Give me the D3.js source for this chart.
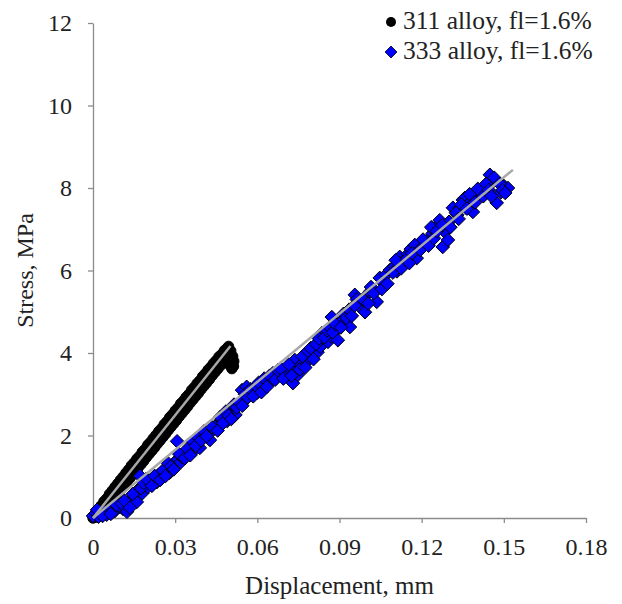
<!DOCTYPE html>
<html lang="en">

<head>
  <meta charset="UTF-8">
  <title>Stress vs displacement</title>
  <script src="https://d3js.org/d3.v7.min.js"></script>
  <style>
    body { margin: 0; background: #fff; }
    text { font-family: "Liberation Serif", "Times New Roman", serif; fill: #222; }
  </style>
</head>

<body>
  <div id="my_dataviz"></div>
  <script>

    // ticks
    const xTicks = [0, 0.03, 0.06, 0.09, 0.12, 0.15, 0.18];
    const xTickLabels = ["0", "0.03", "0.06", "0.09", "0.12", "0.15", "0.18"];
    const yTicks = [0, 2, 4, 6, 8, 10, 12];
    const yTickLabels = ["0", "2", "4", "6", "8", "10", "12"];

    const seriesNames = ["311 alloy, fl=1.6%", "333 alloy, fl=1.6%"];

    // 311 alloy: [displacement mm, stress MPa]
    const alloy311 = [
      [0.000, 0.00], [0.001, 0.12], [0.002, 0.22], [0.003, 0.30], [0.004, 0.40], [0.005, 0.47],
      [0.006, 0.58], [0.007, 0.66], [0.008, 0.75], [0.009, 0.83], [0.010, 0.92], [0.011, 1.00],
      [0.012, 1.09], [0.013, 1.17], [0.014, 1.27], [0.015, 1.34], [0.016, 1.43], [0.017, 1.50],
      [0.018, 1.60], [0.019, 1.67], [0.020, 1.77], [0.021, 1.84], [0.022, 1.93], [0.023, 2.01],
      [0.024, 2.10], [0.025, 2.17], [0.026, 2.27], [0.027, 2.34], [0.028, 2.44], [0.029, 2.51],
      [0.030, 2.60], [0.031, 2.67], [0.032, 2.77], [0.033, 2.84], [0.034, 2.93], [0.035, 3.00],
      [0.036, 3.10], [0.037, 3.17], [0.038, 3.26], [0.039, 3.33], [0.040, 3.43], [0.041, 3.50],
      [0.042, 3.59], [0.043, 3.66], [0.044, 3.75], [0.045, 3.82], [0.046, 3.91], [0.047, 3.97],
      [0.048, 4.06], [0.049, 4.12], [0.0495, 4.16], [0.0503, 4.05], [0.0510, 3.92], [0.0514, 3.80],
      [0.0513, 3.68], [0.0507, 3.62], [0.0500, 3.70],
      [0.0015, 0.02], [0.0025, 0.06], [0.0035, 0.15], [0.0045, 0.23], [0.0055, 0.31], [0.0065, 0.39],
      [0.0075, 0.48], [0.0085, 0.56], [0.0095, 0.64], [0.0105, 0.72], [0.0115, 0.81], [0.0125, 0.89],
      [0.0135, 0.97], [0.0145, 1.05], [0.0155, 1.14], [0.0165, 1.22], [0.0175, 1.30], [0.0185, 1.38],
      [0.0195, 1.47], [0.0205, 1.55], [0.0215, 1.63], [0.0225, 1.71], [0.0235, 1.80], [0.0245, 1.88],
      [0.0255, 1.96], [0.0265, 2.04], [0.0275, 2.13], [0.0285, 2.21], [0.0295, 2.29], [0.0305, 2.37],
      [0.0315, 2.46], [0.0325, 2.54], [0.0335, 2.62], [0.0345, 2.70], [0.0355, 2.79], [0.0365, 2.87],
      [0.0375, 2.95], [0.0385, 3.03], [0.0395, 3.12], [0.0405, 3.20], [0.0415, 3.28], [0.0425, 3.36],
      [0.0435, 3.45], [0.0445, 3.53], [0.0455, 3.61], [0.0465, 3.69], [0.0475, 3.78], [0.0485, 3.86]
    ];

    // 333 alloy
    const alloy333 = [
      [0.000, 0.05], [0.001, 0.12], [0.002, 0.03], [0.003, 0.14], [0.0044, 0.15], [0.005, 0.08],
      [0.006, 0.20], [0.007, 0.24], [0.008, 0.17], [0.0099, 0.27], [0.011, 0.22], [0.0124, 0.15],
      [0.013, 0.36], [0.014, 0.44], [0.015, 0.52], [0.016, 0.39], [0.0164, 0.68], [0.0172, 1.02],
      [0.018, 0.60], [0.019, 0.79], [0.020, 0.75], [0.021, 0.92], [0.022, 0.83], [0.0233, 0.87],
      [0.024, 1.05], [0.025, 0.96], [0.026, 1.12], [0.027, 1.20], [0.028, 1.10], [0.029, 1.28],
      [0.030, 1.36], [0.0307, 1.86], [0.031, 1.42], [0.032, 1.35], [0.0325, 1.48], [0.034, 1.55],
      [0.035, 1.62], [0.036, 1.72], [0.037, 1.64], [0.038, 1.80], [0.039, 1.70], [0.040, 1.92],
      [0.041, 2.00], [0.0427, 1.89], [0.043, 2.08], [0.0445, 2.18], [0.045, 2.25], [0.046, 2.30],
      [0.047, 2.38], [0.048, 2.42], [0.049, 2.35], [0.050, 2.55], [0.051, 2.62], [0.052, 2.50],
      [0.053, 2.72], [0.0544, 3.10], [0.055, 2.85], [0.0561, 3.18], [0.057, 2.98], [0.058, 3.05],
      [0.0598, 3.03], [0.061, 3.15], [0.062, 3.22], [0.063, 3.30], [0.064, 3.25], [0.0657, 3.51],
      [0.067, 3.40], [0.069, 3.42], [0.070, 3.55], [0.071, 3.50], [0.072, 3.62], [0.073, 3.27],
      [0.0737, 3.83], [0.0748, 3.47], [0.076, 3.70], [0.077, 3.78], [0.078, 3.90], [0.079, 3.85],
      [0.080, 3.98], [0.082, 4.02], [0.083, 4.15], [0.0836, 4.48], [0.0858, 4.27], [0.087, 4.40],
      [0.0872, 4.87], [0.089, 4.56], [0.0894, 4.31], [0.0912, 4.80], [0.0938, 4.63], [0.0956, 5.41],
      [0.0963, 5.30], [0.0974, 5.12], [0.0993, 4.99], [0.101, 5.48], [0.1036, 5.24], [0.1047, 5.82],
      [0.106, 5.70], [0.107, 5.90], [0.1084, 6.01], [0.110, 6.10], [0.111, 5.98], [0.112, 6.33],
      [0.113, 6.20], [0.115, 6.40], [0.116, 6.52], [0.1175, 6.62], [0.1182, 6.30], [0.120, 6.55],
      [0.1219, 6.69], [0.123, 6.80], [0.124, 6.90], [0.125, 7.05], [0.1266, 7.22], [0.1277, 6.57],
      [0.1285, 6.93], [0.1296, 6.74], [0.130, 7.18], [0.1314, 7.52], [0.133, 7.35], [0.134, 7.52],
      [0.135, 7.71], [0.1358, 7.76], [0.137, 7.60], [0.1387, 7.42], [0.140, 7.80], [0.1412, 7.90],
      [0.143, 7.95], [0.1449, 8.32], [0.146, 8.15], [0.1474, 7.64], [0.149, 7.90], [0.150, 8.05],
      [0.1515, 8.00],
      [0.0015, 0.20], [0.0035, 0.05], [0.0065, 0.10], [0.0085, 0.32], [0.0105, 0.35], [0.0115, 0.42],
      [0.0135, 0.25], [0.0145, 0.58], [0.0175, 0.72], [0.0185, 0.85], [0.0195, 0.95], [0.0215, 0.78],
      [0.0225, 1.02], [0.0245, 0.92], [0.0255, 1.15], [0.0265, 1.02], [0.0275, 1.32], [0.0285, 1.25],
      [0.0295, 1.18], [0.0315, 1.55], [0.0335, 1.45], [0.0345, 1.68], [0.0355, 1.52], [0.0365, 1.85],
      [0.0375, 1.75], [0.0385, 1.95], [0.0395, 1.88], [0.0405, 2.10], [0.0415, 1.98], [0.0435, 2.20],
      [0.0455, 2.12], [0.0465, 2.45], [0.0475, 2.30], [0.0485, 2.58], [0.0495, 2.48], [0.0505, 2.40],
      [0.0515, 2.75], [0.0525, 2.68], [0.0535, 2.80], [0.0545, 2.72], [0.0555, 3.00], [0.0565, 2.92],
      [0.0575, 3.12], [0.0585, 2.95], [0.0595, 3.20], [0.0605, 3.28], [0.0615, 3.05], [0.0625, 3.38],
      [0.0635, 3.18], [0.0645, 3.45], [0.0665, 3.35], [0.0675, 3.58], [0.0685, 3.62], [0.0695, 3.38],
      [0.0715, 3.72], [0.0725, 3.45], [0.0755, 3.60], [0.0765, 3.92], [0.0775, 3.65], [0.0785, 4.05],
      [0.0795, 4.12], [0.0805, 3.85], [0.0815, 4.22], [0.0825, 4.35], [0.0845, 4.38], [0.0855, 4.55],
      [0.0865, 4.62], [0.0875, 4.50], [0.0885, 4.70], [0.0905, 4.62], [0.0915, 4.95], [0.0925, 4.85],
      [0.0935, 5.05], [0.0945, 4.90], [0.0955, 5.15], [0.0985, 5.30], [0.1005, 5.20], [0.1015, 5.60],
      [0.1025, 5.45], [0.1055, 5.55], [0.1075, 5.68], [0.1095, 5.95], [0.1105, 6.25], [0.1125, 6.05],
      [0.1145, 6.28], [0.1155, 6.18], [0.1165, 6.42], [0.1195, 6.50], [0.1205, 6.75], [0.1225, 6.60],
      [0.1235, 7.05], [0.1245, 6.78], [0.1255, 6.95], [0.1275, 7.10], [0.1305, 7.05], [0.1325, 7.40],
      [0.1335, 7.25], [0.1345, 7.60], [0.1365, 7.50], [0.1375, 7.85], [0.1395, 7.65], [0.1405, 7.98],
      [0.1425, 7.80], [0.1435, 8.10], [0.1445, 7.95], [0.1455, 7.80], [0.1465, 8.25], [0.1485, 8.10],
      [0.1495, 7.95], [0.1505, 7.88]
    ];

    // linear trend lines (end points)
    const trend311 = [[0, 0], [0.0502, 4.17]];
    const trend333 = [[0, 0], [0.1533, 8.44]];

    const margin = { top: 23, right: 36, bottom: 86, left: 93 },
      width = 622 - margin.left - margin.right,
      height = 604 - margin.top - margin.bottom;

    const svg = d3.select("#my_dataviz")
      .append("svg")
      .attr("width", 622)
      .attr("height", 604)
      .append("g")
      .attr("transform", `translate(${margin.left},${margin.top})`);

    const x = d3.scaleLinear().domain([0, 0.18]).range([0, width]);
    const y = d3.scaleLinear().domain([0, 12]).range([height, 0]);

    // X axis
    const xAxis = svg.append("g")
      .attr("transform", `translate(0,${height})`)
      .call(d3.axisBottom(x).tickValues(xTicks)
        .tickFormat((d, i) => xTickLabels[i]).tickSize(5).tickPadding(15).tickSizeOuter(0));

    // Y axis
    const yAxis = svg.append("g")
      .call(d3.axisLeft(y).tickValues(yTicks)
        .tickFormat((d, i) => yTickLabels[i]).tickSize(5).tickPadding(16).tickSizeOuter(0));

    [xAxis, yAxis].forEach(a => {
      a.select(".domain").attr("stroke", "#8c8c8c").attr("stroke-width", 1.3);
      a.selectAll(".tick line").attr("stroke", "#8c8c8c").attr("stroke-width", 1.3);
      a.selectAll(".tick text")
        .style("font-family", '"Liberation Serif", serif')
        .style("font-size", "24px")
        .attr("fill", "#222");
    });

    // axis titles
    svg.append("text")
      .attr("x", width / 2)
      .attr("y", height + 76)
      .attr("text-anchor", "middle")
      .style("font-size", "25px")
      .text("Displacement, mm");

    svg.append("text")
      .attr("transform", `translate(${33 - margin.left},${height / 2}) rotate(-90)`)
      .attr("text-anchor", "middle")
      .style("font-size", "24px")
      .text("Stress, MPa");

    const diamond = s => `M0,${-s}L${s},0L0,${s}L${-s},0Z`;

    // 311 circles
    svg.append("g")
      .selectAll("circle")
      .data(alloy311)
      .join("circle")
      .attr("cx", d => x(d[0]))
      .attr("cy", d => y(d[1]))
      .attr("r", 5.2)
      .attr("fill", "#000")
      .attr("stroke", "#000");

    // 333 diamonds
    svg.append("g")
      .selectAll("path")
      .data(alloy333)
      .join("path")
      .attr("transform", d => `translate(${x(d[0])},${y(d[1])})`)
      .attr("d", diamond(6.8))
      .attr("fill", "#0000ff")
      .attr("stroke", "#000")
      .attr("stroke-width", 1);

    // trend lines
    const line = d3.line().x(d => x(d[0])).y(d => y(d[1]));
    [trend311, trend333].forEach(t => {
      svg.append("path")
        .datum(t)
        .attr("fill", "none")
        .attr("stroke", "#a8a8a8")
        .attr("stroke-width", 2.5)
        .attr("d", line);
    });

    // legend
    const legend = svg.append("g").attr("transform", `translate(${391 - margin.left},${22 - margin.top})`);
    legend.append("circle").attr("cx", 0).attr("cy", 0).attr("r", 5).attr("fill", "#000");
    legend.append("path").attr("transform", "translate(0,30)").attr("d", diamond(6))
      .attr("fill", "#0000ff").attr("stroke", "#000").attr("stroke-width", 0.8);
    legend.selectAll("text.lg")
      .data(seriesNames)
      .join("text")
      .attr("class", "lg")
      .attr("x", 12)
      .attr("y", (d, i) => 7 + i * 30)
      .style("font-size", "25.5px")
      .text(d => d);

  </script>
</body>

</html>
